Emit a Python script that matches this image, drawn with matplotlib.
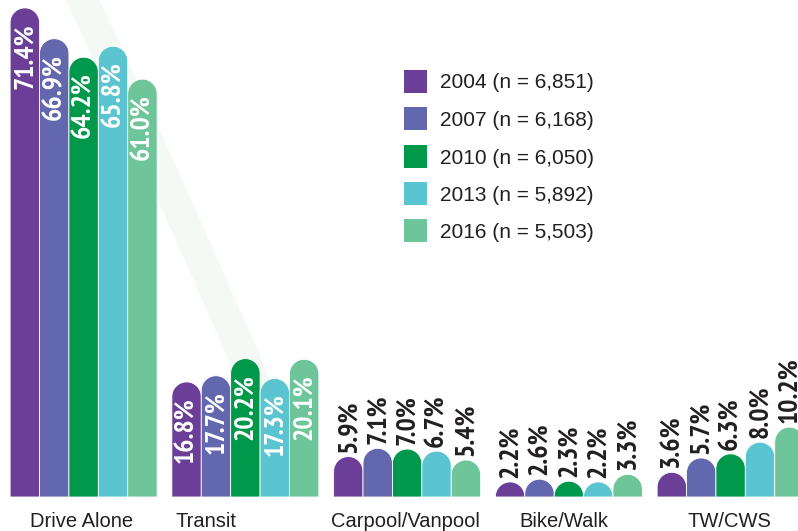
import numpy as np
import matplotlib
matplotlib.use('Agg')
import matplotlib.pyplot as plt
from matplotlib.path import Path
from matplotlib.patches import PathPatch, Rectangle
from matplotlib import font_manager
import matplotlib.transforms as mtransforms

# ---------------- data ----------------
categories = ['Drive Alone', 'Transit', 'Carpool/Vanpool', 'Bike/Walk', 'TW/CWS']
years = ['2004', '2007', '2010', '2013', '2016']
sample_sizes = ['6,851', '6,168', '6,050', '5,892', '5,503']
share_2004 = [71.4, 16.8, 5.9, 2.2, 3.6]
share_2007 = [66.9, 17.7, 7.1, 2.6, 5.7]
share_2010 = [64.2, 20.2, 7.0, 2.3, 6.3]
share_2013 = [65.8, 17.3, 6.7, 2.2, 8.0]
share_2016 = [61.0, 20.1, 5.4, 3.3, 10.2]
series = [share_2004, share_2007, share_2010, share_2013, share_2016]

# ---------------- style ----------------
colors = ['#6b3f98', '#6368ae', '#00984b', '#5bc4d1', '#6ec59a']
text_dark = '#231f20'
W, H, DPI = 798, 531, 100

fl = font_manager.fontManager.ttflist
names = {f.name for f in fl}
regular = 'Liberation Sans' if 'Liberation Sans' in names else 'DejaVu Sans'


def wt(f):
    w = f.weight
    if isinstance(w, str):
        return {'bold': 700, 'normal': 400, 'regular': 400}.get(w, 400)
    return w

narrow_bold = [f for f in fl if 'Narrow' in f.name and wt(f) >= 700 and f.style == 'normal']
dj_cond_bold = [f for f in fl if f.name == 'DejaVu Sans' and 'condensed' in str(f.stretch)
                and wt(f) >= 700 and f.style == 'normal']
if narrow_bold:
    label_fp = font_manager.FontProperties(fname=narrow_bold[0].fname, size=20)
elif dj_cond_bold:
    label_fp = font_manager.FontProperties(fname=dj_cond_bold[0].fname, size=17.5)
else:
    label_fp = font_manager.FontProperties(family=regular, weight='bold', size=17)

fig = plt.figure(figsize=(W / DPI, H / DPI), dpi=DPI)
fig.patch.set_facecolor('white')

base_px = 497          # baseline (pixels from top)
px_per_pct = 6.85
group_px = 161.75
first_center_px = 82
bar_px = 29.4

ax = fig.add_axes([0, (H - base_px) / H, 1, base_px / H])
ax.set_ylim(0, base_px / px_per_pct)
ax.set_xlim(-first_center_px / group_px, (W - first_center_px) / group_px)
ax.axis('off')

bw = bar_px / group_px
r_y = (bar_px / 2) / px_per_pct


def rounded_bar(xc, h, color):
    x0, x1 = xc - bw / 2, xc + bw / 2
    c = h - r_y
    bottom = min(0, c)
    t = np.linspace(np.pi, 0, 40)
    arc_x = xc + (bw / 2) * np.cos(t)
    arc_y = c + r_y * np.sin(t)
    verts = [(x0, bottom)] + list(zip(arc_x, arc_y)) + [(x1, bottom), (x0, bottom)]
    codes = [Path.MOVETO] + [Path.LINETO] * (len(verts) - 2) + [Path.CLOSEPOLY]
    p = PathPatch(Path(verts, codes), facecolor=color, edgecolor='white',
                  linewidth=0.6, zorder=2)
    ax.add_patch(p)


x = np.arange(len(categories))
offsets = (np.arange(len(years)) - 2) * bw
for s, (vals, col) in enumerate(zip(series, colors)):
    for i, v in enumerate(vals):
        xc = x[i] + offsets[s] + 0.01
        rounded_bar(xc, v, col)
        label = f'{v:.1f}%'
        if v > 15:
            tr = ax.transData + mtransforms.ScaledTranslation(0, -15 / DPI, fig.dpi_scale_trans)
            ax.text(xc, v, label, rotation=90, ha='center', va='top', color='white',
                    transform=tr, zorder=3, fontproperties=label_fp)
        else:
            tr = ax.transData + mtransforms.ScaledTranslation(0, 4 / DPI, fig.dpi_scale_trans)
            ax.text(xc, v, label, rotation=90, ha='center', va='bottom', color=text_dark,
                    transform=tr, zorder=3, fontproperties=label_fp)

# category labels
label_shift_px = [0, -38, 0, -3, 0]
for i, cat in enumerate(categories):
    tr = mtransforms.blended_transform_factory(ax.transData, fig.transFigure) + \
        mtransforms.ScaledTranslation(label_shift_px[i] / DPI, 0, fig.dpi_scale_trans)
    fig.text(x[i], 4 / H, cat, ha='center', va='baseline', fontsize=14.5,
             fontfamily=regular, color=text_dark, transform=tr)

# legend
row_centers_px = [81, 118.5, 156, 193.5, 230.5]
sq = 23
for yc, yr, n, col in zip(row_centers_px, years, sample_sizes, colors):
    fig.add_artist(Rectangle((404 / W, 1 - (yc + sq / 2) / H), sq / W, sq / H,
                             transform=fig.transFigure, facecolor=col, edgecolor='none'))
    fig.text(440 / W, 1 - yc / H, f'{yr} (n = {n})', ha='left', va='center_baseline',
             fontsize=15, fontfamily=regular, color=text_dark)

# decorative background swoosh
P = [(78, -10), (190, 230), (258, 390)]
verts = [(px / W, 1 - py / H) for px, py in P]
sw = PathPatch(Path(verts, [Path.MOVETO, Path.CURVE3, Path.CURVE3]), fill=False,
               edgecolor='#f4f9f6', linewidth=22, capstyle='butt',
               transform=fig.transFigure, zorder=0, clip_on=False)
ax.add_patch(sw)

fig.savefig('out.png', dpi=DPI, facecolor='white')
